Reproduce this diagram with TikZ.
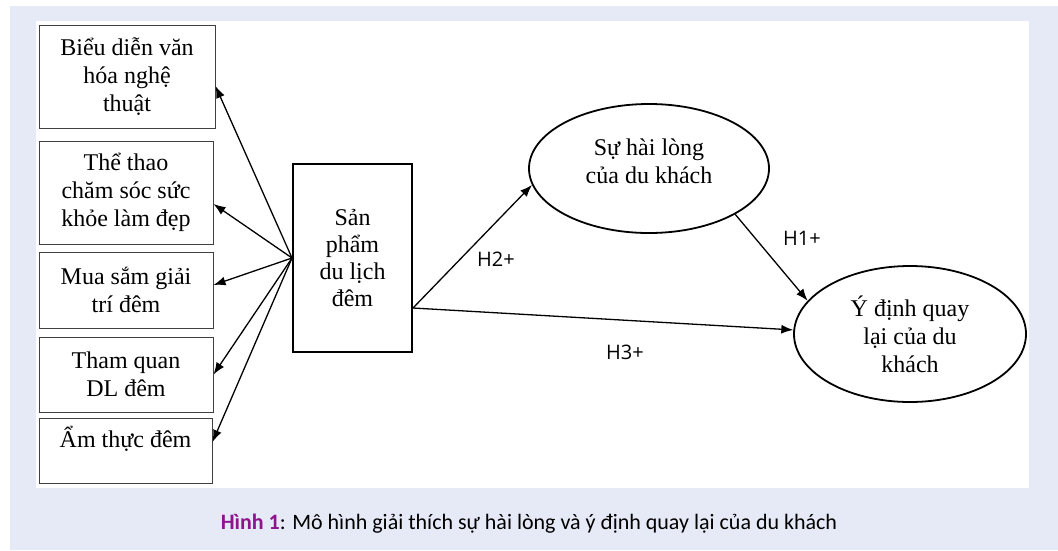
\documentclass[tikz,border=0pt]{standalone}
\usepackage{fontspec}
\setmainfont{Liberation Serif}
\newfontfamily\capfont{Carlito}
\newfontfamily\hypfont{Open Sans}
\usetikzlibrary{arrows.meta,calc,shapes.geometric}

\newlength{\du}
\setlength{\du}{1pt}
\definecolor{panelcolor}{RGB}{230,234,246}
\definecolor{figcolor}{RGB}{140,20,140}

\tikzset{
  itembox/.style={draw=black!75, line width=1\du, inner sep=0pt, align=center,
    font=\fontsize{24}{28}\selectfont},
  prodbox/.style={draw=black, line width=2\du, inner sep=0pt, align=center,
    minimum width=119\du, minimum height=188\du, font=\fontsize{24}{27}\selectfont},
  oval/.style={ellipse, draw=black, line width=1.8\du, inner sep=0pt, align=center,
    font=\fontsize{24}{28}\selectfont},
  arr/.style={-{Latex[length=12pt,width=9pt]}, line width=1.3\du},
  hyp/.style={font=\hypfont\fontsize{20}{20}\selectfont},
}

\begin{document}
\begin{tikzpicture}[x=\du,y=-\du]
\useasboundingbox (0,0) rectangle (1058,550);
\fill[panelcolor] (10,6) rectangle (1058,550);
\fill[white] (36,21) rectangle (1029,488);
% the five kinds of night tourism
\node[itembox, minimum width=176\du, minimum height=103\du] (b1) at (127,76.5) {Biểu diễn văn\\hóa nghệ\\thuật};
\node[itembox, minimum width=174\du, minimum height=103\du] (b2) at (126,192.5) {Thể thao\\chăm sóc sức\\khỏe làm đẹp};
\node[itembox, minimum width=174\du, minimum height=76\du] (b3) at (126,290) {Mua sắm giải\\trí đêm};
\node[itembox, minimum width=174\du, minimum height=75\du] (b4) at (126,374.5) {Tham quan\\DL đêm};
\node[itembox, minimum width=173\du, minimum height=65\du, text height=17\du, text depth=24\du] (b5) at (125.5,450.5) {Ẩm thực đêm};
% product, satisfaction, intention
\node[prodbox] (prod) at (352.5,258) {Sản\\phẩm\\du lịch\\đêm};
\node[oval, minimum width=240\du, minimum height=129\du, text depth=14\du] (sat) at (649,168.5) {Sự hài lòng\\của du khách};
\node[oval, minimum width=232\du, minimum height=136\du] (ret) at (910,334) {Ý định quay\\lại của du\\khách};
% arrows
\coordinate (out) at ($(prod.east)+(0,50)$);
\foreach \itm/\dy in {b1/9.5,b2/11.5,b3/-5,b4/0,b5/-8.5}
  \draw[arr] (prod.west) -- ($(\itm.east)+(0,\dy)$);
\draw[arr] (out) -- (sat.188);
\draw[arr] (out) -- (ret.178);
\draw[arr] (sat.-28) -- (ret.162);
\node[hyp] (h2) at (496,259) {H2+};
\node[hyp] (h1) at (802,238) {H1+};
\node[hyp] (h3) at (625,352) {H3+};
% caption
\node[font=\capfont\fontsize{22}{22}\selectfont, text=black] (cap) at (529,524)
  {\textcolor{figcolor}{\textbf{Hình 1}}: Mô hình giải thích sự hài lòng và ý định quay lại của du khách};
\end{tikzpicture}
\end{document}
